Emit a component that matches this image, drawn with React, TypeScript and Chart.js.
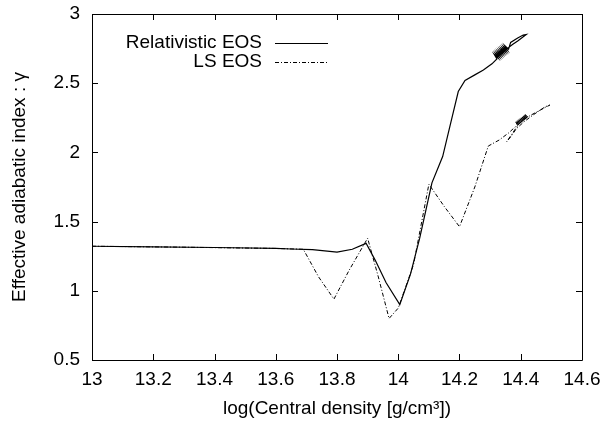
import React, { useEffect, useRef } from "react";
import { Chart, registerables } from "chart.js";

Chart.register(...registerables);

// Tick values
const xTicks = [13, 13.2, 13.4, 13.6, 13.8, 14, 14.2, 14.4, 14.6];
const yTicks = [0.5, 1, 1.5, 2, 2.5, 3];

// Relativistic EOS (solid)
const relX = [
  13.0, 13.2, 13.4, 13.6, 13.65, 13.72, 13.8, 13.85, 13.895, 13.925, 13.96, 14.005,
  14.04, 14.07, 14.11, 14.145, 14.17, 14.196, 14.218, 14.25, 14.278, 14.306,
  14.3222, 14.3137, 14.326, 14.3175, 14.3298, 14.3213, 14.3336, 14.3251, 14.3374, 14.3289, 14.3412,
  14.3327, 14.345, 14.3365, 14.3488, 14.3403, 14.3526, 14.3441, 14.3564, 14.3479, 14.3602,
  14.367, 14.39, 14.408, 14.418, 14.405, 14.39, 14.373, 14.36, 14.348,
];
const relY = [
  1.322, 1.318, 1.313, 1.306, 1.302, 1.297, 1.28, 1.3, 1.343, 1.22, 1.06, 0.9,
  1.12, 1.38, 1.78, 1.97, 2.2, 2.44, 2.52, 2.56, 2.595, 2.64,
  2.6755, 2.708, 2.6825, 2.715, 2.6895, 2.722, 2.6965, 2.729, 2.7035, 2.736, 2.7105,
  2.743, 2.7175, 2.75, 2.7245, 2.757, 2.7315, 2.764, 2.7385, 2.771, 2.7455,
  2.795, 2.827, 2.848, 2.852, 2.83, 2.805, 2.78, 2.757, 2.735,
];

// LS EOS (dash-dot)
const lsX = [
  13.0, 13.3, 13.6, 13.69, 13.74, 13.79, 13.84, 13.9, 13.935, 13.97, 14.0, 14.05,
  14.1, 14.15, 14.2, 14.25, 14.294, 14.33, 14.36, 14.39, 14.41, 14.45, 14.495,
  14.48, 14.44, 14.41, 14.385, 14.37, 14.354,
  14.39, 14.3837, 14.3934, 14.3871, 14.3968, 14.3905, 14.4002, 14.3939, 14.4036, 14.3973, 14.407,
  14.4007, 14.4104, 14.4041, 14.4138, 14.4075, 14.4172, 14.4109, 14.4206, 14.4143, 14.424,
];
const lsY = [
  1.322, 1.315, 1.306, 1.3, 1.1, 0.94, 1.15, 1.38, 1.1, 0.8, 0.875, 1.19,
  1.77, 1.61, 1.463, 1.75, 2.046, 2.09, 2.14, 2.2, 2.24, 2.29, 2.342,
  2.33, 2.27, 2.22, 2.17, 2.12, 2.077,
  2.194, 2.219, 2.2, 2.225, 2.206, 2.231, 2.212, 2.237, 2.218, 2.243, 2.224,
  2.249, 2.23, 2.255, 2.236, 2.261, 2.242, 2.267, 2.248, 2.273, 2.254,
];
const lsBlobStart = 29;

const legendLabels = ["Relativistic EOS", "LS EOS"];
const lsDash = [4, 2, 1, 2];
const FONT = '"Liberation Sans", Arial, Helvetica, sans-serif';

const framePlugin = {
  id: "frame",
  afterDatasetsDraw(chart: any) {
    const { ctx, chartArea: a, scales } = chart;
    const xs = scales.x;
    const ys = scales.y;
    ctx.save();
    ctx.strokeStyle = "#000";
    ctx.lineWidth = 1;
    ctx.beginPath();
    ctx.rect(Math.round(a.left) + 0.5, Math.round(a.top) + 0.5, Math.round(a.right - a.left), Math.round(a.bottom - a.top));
    ctx.stroke();
    const tl = 6;
    ctx.beginPath();
    xTicks.forEach((v) => {
      const px = Math.round(xs.getPixelForValue(v)) + 0.5;
      ctx.moveTo(px, a.bottom);
      ctx.lineTo(px, a.bottom - tl);
      ctx.moveTo(px, a.top);
      ctx.lineTo(px, a.top + tl);
    });
    yTicks.forEach((v) => {
      const py = Math.round(ys.getPixelForValue(v)) + 0.5;
      ctx.moveTo(a.left, py);
      ctx.lineTo(a.left + tl, py);
      ctx.moveTo(a.right, py);
      ctx.lineTo(a.right - tl, py);
    });
    ctx.stroke();

    // legend
    ctx.font = `19px ${FONT}`;
    ctx.fillStyle = "#000";
    ctx.textAlign = "right";
    ctx.textBaseline = "middle";
    const rows = [43, 62];
    legendLabels.forEach((lab, i) => {
      const y = rows[i];
      ctx.fillText(lab, 262, y);
      ctx.beginPath();
      ctx.setLineDash(i === 0 ? [] : lsDash);
      ctx.moveTo(275, y + 0.5);
      ctx.lineTo(328, y + 0.5);
      ctx.stroke();
    });
    ctx.restore();
  },
};

export default function App() {
  const ref = useRef<HTMLCanvasElement | null>(null);
  useEffect(() => {
    document.body.style.margin = "0";
    const canvas = ref.current;
    if (!canvas) return;
    const chart = new Chart(canvas, {
      type: "scatter",
      data: {
        datasets: [
          {
            label: legendLabels[0],
            data: relX.map((x, i) => ({ x, y: relY[i] })),
            showLine: true,
            borderColor: "#000",
            borderWidth: 1.2,
            pointRadius: 0,
            tension: 0,
          },
          {
            label: legendLabels[1],
            data: lsX.map((x, i) => ({ x, y: lsY[i] })),
            showLine: true,
            borderColor: "#000",
            borderWidth: 1,
            borderDash: lsDash,
            segment: {
              borderDash: (c: any) => (c.p0DataIndex >= lsBlobStart ? [] : lsDash),
            },
            pointRadius: 0,
            tension: 0,
          },
        ],
      },
      options: {
        animation: false,
        responsive: false,
        devicePixelRatio: 1,
        layout: { padding: { top: 14, right: 18, left: 0, bottom: 0 } },
        plugins: { legend: { display: false }, tooltip: { enabled: false } },
        scales: {
          x: {
            type: "linear",
            min: 13,
            max: 14.6,
            grid: { display: false, drawTicks: false },
            border: { display: false },
            afterBuildTicks: (s: any) => {
              s.ticks = xTicks.map((v) => ({ value: v }));
            },
            afterFit: (s: any) => {
              s.height = 68;
              s.paddingLeft = 0;
              s.paddingRight = 0;
            },
            ticks: {
              padding: 8,
              color: "#000",
              font: { family: FONT, size: 19 },
              maxRotation: 0,
              callback: (v: any) => String(Math.round(Number(v) * 10) / 10),
            },
            title: {
              display: true,
              text: "log(Central density [g/cm³])",
              color: "#000",
              font: { family: FONT, size: 19 },
              padding: { top: 0, bottom: 8 },
            },
          },
          y: {
            type: "linear",
            min: 0.5,
            max: 3,
            grid: { display: false, drawTicks: false },
            border: { display: false },
            afterBuildTicks: (s: any) => {
              s.ticks = yTicks.map((v) => ({ value: v }));
            },
            afterFit: (s: any) => {
              s.width = 92;
              s.paddingTop = 0;
              s.paddingBottom = 0;
            },
            ticks: {
              padding: 12,
              color: "#000",
              font: { family: FONT, size: 19 },
              callback: (v: any) => String(Math.round(Number(v) * 10) / 10),
            },
            title: {
              display: true,
              text: "Effective adiabatic index : γ",
              color: "#000",
              font: { family: FONT, size: 19 },
              padding: { top: 8, bottom: 0 },
            },
          },
        },
      },
      plugins: [framePlugin],
    });
    return () => chart.destroy();
  }, []);
  return (
    <div style={{ width: 600, height: 428 }}>
      <canvas ref={ref} width={600} height={428} style={{ display: "block" }} />
    </div>
  );
}
